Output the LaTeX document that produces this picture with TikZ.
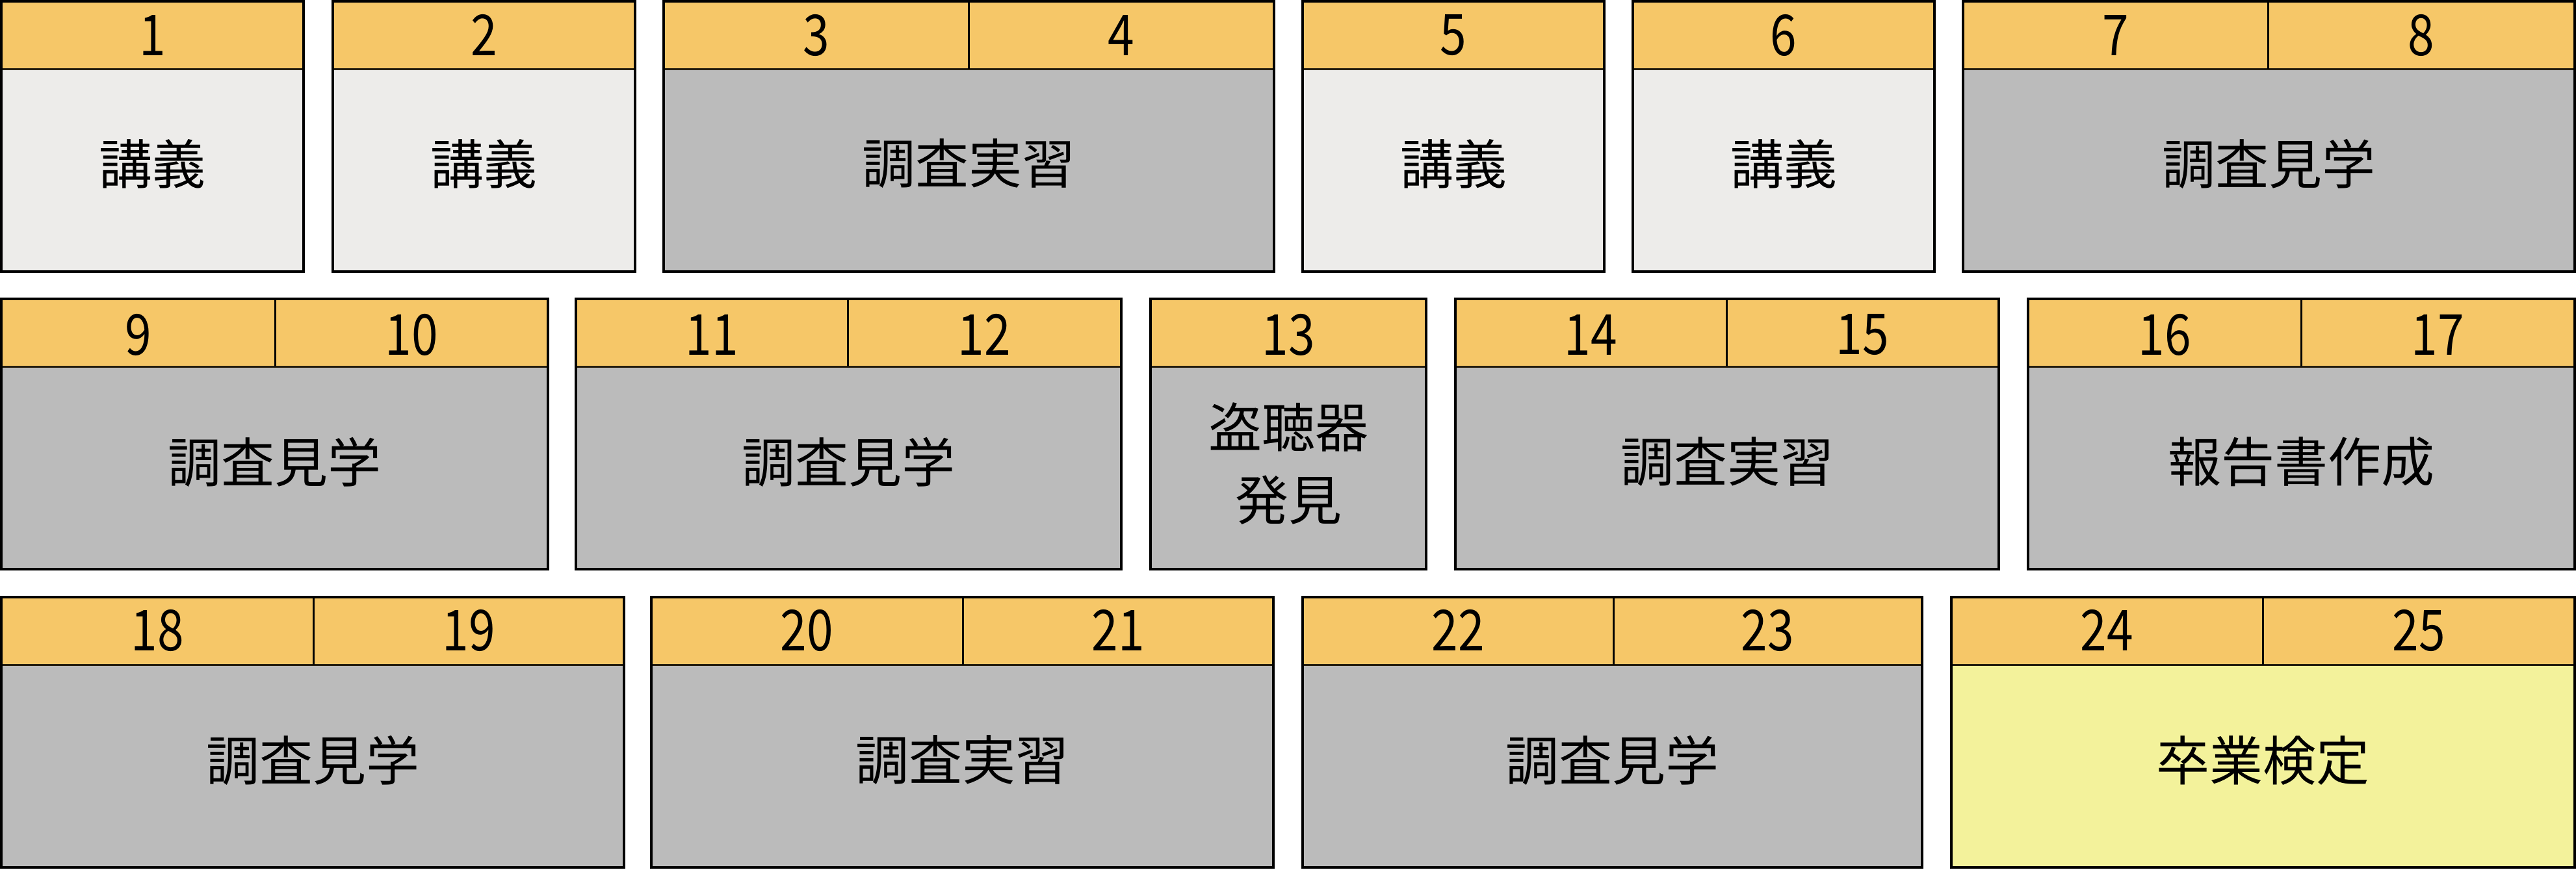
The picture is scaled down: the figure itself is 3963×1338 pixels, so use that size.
\documentclass[tikz,border=0pt]{standalone}
\usepackage{fontspec}
\usepackage{graphicx}
\setmainfont{Noto Sans CJK JP}
\definecolor{hdr}{HTML}{F6C768}
\definecolor{light}{HTML}{EDECEA}
\definecolor{grayb}{HTML}{BBBBBB}
\definecolor{yel}{HTML}{F3F29B}
\tikzset{
  outer/.style={draw=black,line width=4pt},
  hline/.style={draw=black!85!hdr,line width=3pt},
  vline/.style={draw=black,line width=3pt},
  lab/.style={font=\fontsize{82}{112}\selectfont,inner sep=0pt,align=center},
  num/.style={font=\fontsize{87}{100}\selectfont,inner sep=0pt},
}
\newcommand\nm[1]{\scalebox{0.84}[1]{#1}}
% #1 x1, #2 x2, #3 ytop, #4 fill, #5 divider x (or empty)
\newcommand\card[5]{%
  \fill[#4] (#1,#3) rectangle (#2,#3+416);
  \fill[hdr] (#1,#3) rectangle (#2,#3+104);
  \draw[hline] (#1,#3+104) -- (#2,#3+104);
  \if\relax\detokenize{#5}\relax\else\draw[vline] (#5,#3) -- (#5,#3+104);\fi
  \draw[outer] (#1,#3) rectangle (#2,#3+416);
}
\begin{document}
\begin{tikzpicture}[x=1pt,y=-1pt]
\useasboundingbox (0,0) rectangle (3963,1338);
% Row 1
\card{2}{467}{2}{light}{}
\card{512}{977}{2}{light}{}
\card{1021}{1960}{2}{grayb}{1490}
\card{2004}{2468}{2}{light}{}
\card{2512}{2976}{2}{light}{}
\card{3020}{3961}{2}{grayb}{3489}
\node[num] (n1) at (234.5,54) {\nm{1}};
\node[num] (n2) at (744.5,54) {\nm{2}};
\node[num] (n3) at (1255.5,54) {\nm{3}};
\node[num] (n4) at (1725,54) {\nm{4}};
\node[num] (n5) at (2236,54) {\nm{5}};
\node[num] (n6) at (2744,54) {\nm{6}};
\node[num] (n7) at (3254.5,54) {\nm{7}};
\node[num] (n8) at (3725,54) {\nm{8}};
\node[lab] (t1) at (234.5,252) {講義};
\node[lab] (t2) at (744.5,252) {講義};
\node[lab] (t34) at (1490.5,252) {調査実習};
\node[lab] (t5) at (2236,252) {講義};
\node[lab] (t6) at (2744,252) {講義};
\node[lab] (t78) at (3490.5,252) {調査見学};
% Row 2
\card{2}{843}{460}{grayb}{423}
\card{886}{1725}{460}{grayb}{1304}
\card{1770}{2194}{460}{grayb}{}
\card{2239}{3075}{460}{grayb}{2656}
\card{3120}{3961}{460}{grayb}{3540}
\node[num] (n9) at (212.5,515) {\nm{9}};
\node[num] (n10) at (633,515) {\nm{10}};
\node[num] (n11) at (1095,515) {\nm{11}};
\node[num] (n12) at (1514.5,515) {\nm{12}};
\node[num] (n13) at (1982,515) {\nm{13}};
\node[num] (n14) at (2447.5,515) {\nm{14}};
\node[num] (n15) at (2865.5,515) {\nm{15}};
\node[num] (n16) at (3330,515) {\nm{16}};
\node[num] (n17) at (3750.5,515) {\nm{17}};
\node[lab] (t910) at (422.5,711) {調査見学};
\node[lab] (t1112) at (1305.5,711) {調査見学};
\node[lab] (t13) at (1982,714) {盗聴器\\発見};
\node[lab] (t1415) at (2657,711) {調査実習};
\node[lab] (t1617) at (3540.5,711) {報告書作成};
% Row 3
\card{2}{960}{919}{grayb}{482}
\card{1002}{1959}{919}{grayb}{1481}
\card{2004}{2957}{919}{grayb}{2482}
\card{3002}{3961}{919}{yel}{3481}
\node[num] (n18) at (242,970) {\nm{18}};
\node[num] (n19) at (721,970) {\nm{19}};
\node[num] (n20) at (1241.5,970) {\nm{20}};
\node[num] (n21) at (1720,970) {\nm{21}};
\node[num] (n22) at (2243,970) {\nm{22}};
\node[num] (n23) at (2719.5,970) {\nm{23}};
\node[num] (n24) at (3241.5,970) {\nm{24}};
\node[num] (n25) at (3721,970) {\nm{25}};
\node[lab] (t1819) at (481,1170) {調査見学};
\node[lab] (t2021) at (1480.5,1170) {調査実習};
\node[lab] (t2223) at (2480.5,1170) {調査見学};
\node[lab] (t2425) at (3481.5,1170) {卒業検定};
\end{tikzpicture}
\end{document}
